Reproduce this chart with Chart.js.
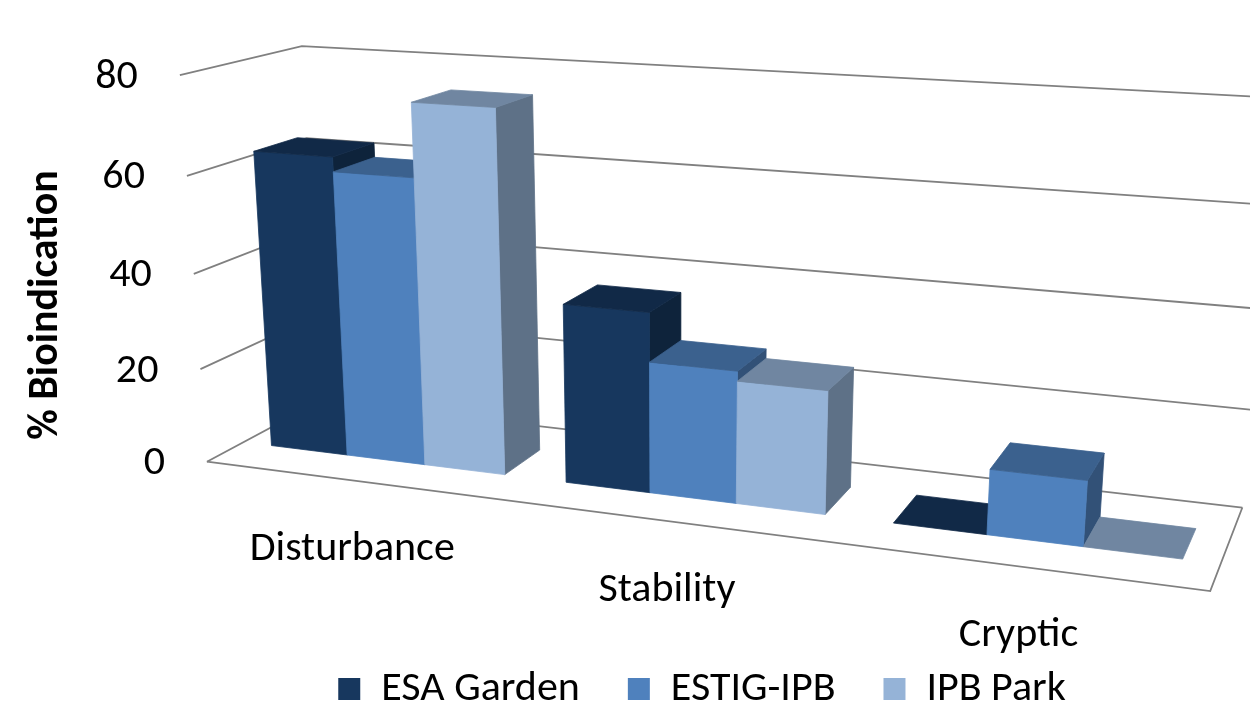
<!DOCTYPE html>
<html><head><meta charset="utf-8">
<script src="https://cdn.jsdelivr.net/npm/chart.js@4.4.1/dist/chart.umd.min.js"></script>
<style>html,body{margin:0;padding:0;background:#fff;}</style>
</head><body><canvas id="c" width="1250" height="706"></canvas>
<script>
// Bioindication share (%) per ecological group and site
const categories = ['Disturbance', 'Stability', 'Cryptic'];
const esaGarden = [63, 37, 0];
const estigIpb = [60, 27, 13];
const ipbPark = [75, 25, 0];
const yTicks = [0, 20, 40, 60, 80];

// Perspective view of the plot box. World coordinates are normalised to [0,1]:
// X across the category axis, Y = value / axis max, Z from the front to the back wall.
// Canvas point = (hx/hw, hy/hw) with h = H0 + X*Hx + Y*Hy + Z*Hz.
const camera = {
  H0: [206.9179, 461.7321, 1],
  Hx: [817.7837, 38.7801, -0.1533],
  Hy: [-36.8897, -390.6310, -0.0547],
  Hz: [143.6054, -23.2369, 0.0937]
};
const barFront = 0.304, barBack = 0.673;   // depth slab occupied by the columns
const FONT = 'Carlito, Calibri, Lato, sans-serif';

function project(X, Y, Z) {
  const h = [0, 1, 2].map(i => camera.H0[i] + X * camera.Hx[i] + Y * camera.Hy[i] + Z * camera.Hz[i]);
  return [h[0] / h[2], h[1] / h[2]];
}
const shade = (hex, f) => {
  const n = parseInt(hex.slice(1), 16);
  return `rgb(${Math.round(((n >> 16) & 255) * f)},${Math.round(((n >> 8) & 255) * f)},${Math.round((n & 255) * f)})`;
};

const view3d = {
  id: 'view3d',
  beforeDatasetsDraw(chart) {
    const ctx = chart.ctx, a = chart.chartArea, ys = chart.scales.y, xs = chart.scales.x;
    const nx = px => (px - a.left) / a.width;
    const ny = py => (a.bottom - py) / a.height;
    const poly = ps => { ctx.beginPath(); ps.forEach((q, i) => i ? ctx.lineTo(q[0], q[1]) : ctx.moveTo(q[0], q[1])); };
    const area2 = ps => { let s = 0; for (let i = 0; i < ps.length; i++) { const j = (i + 1) % ps.length; s += ps[i][0] * ps[j][1] - ps[j][0] * ps[i][1]; } return s; };
    ctx.save();

    // side wall + back wall gridlines, floor outline
    ctx.strokeStyle = '#808080'; ctx.lineWidth = 1.8; ctx.lineJoin = 'miter';
    ys.ticks.forEach(t => {
      const Y = ny(ys.getPixelForValue(t.value));
      poly([project(0, Y, 0), project(0, Y, 1), project(1, Y, 1)]); ctx.stroke();
    });
    poly([project(0, 0, 0), project(1, 0, 0), project(1, 0, 1)]); ctx.stroke();

    // columns as boxes, painted left to right
    const boxes = [];
    chart.data.datasets.forEach((ds, di) => {
      chart.getDatasetMeta(di).data.forEach(bar => {
        const { x, y, base, width } = bar.getProps(['x', 'y', 'base', 'width'], true);
        boxes.push({ X0: nx(x - width / 2), X1: nx(x + width / 2), Y0: ny(base), Y1: ny(y), col: ds.backgroundColor });
      });
    });
    boxes.sort((p, q) => p.X0 - q.X0);
    const facing = Math.sign(area2([project(0, 0, 0), project(0, 1, 0), project(1, 1, 0), project(1, 0, 0)]));
    const fillFace = (f, color) => {
      ctx.fillStyle = color; ctx.strokeStyle = color; ctx.lineWidth = 0.8;
      poly(f); ctx.closePath(); ctx.fill(); ctx.stroke();
    };
    const zf = barFront, zb = barBack;
    boxes.forEach(({ X0, X1, Y0, Y1, col }) => {
      const front = [project(X0, Y0, zf), project(X0, Y1, zf), project(X1, Y1, zf), project(X1, Y0, zf)];
      const top = [project(X0, Y1, zf), project(X0, Y1, zb), project(X1, Y1, zb), project(X1, Y1, zf)];
      const right = [project(X1, Y0, zf), project(X1, Y1, zf), project(X1, Y1, zb), project(X1, Y0, zb)];
      const left = [project(X0, Y0, zf), project(X0, Y0, zb), project(X0, Y1, zb), project(X0, Y1, zf)];
      if (Y1 - Y0 > 1e-4) {
        [left, right].forEach(f => { if (Math.sign(area2(f)) === facing) fillFace(f, shade(col, 0.63)); });
        fillFace(front, col);
      }
      fillFace(top, shade(col, 0.75));
    });

    // value axis labels along the front edge of the side wall
    ctx.fillStyle = '#000'; ctx.font = '42px ' + FONT;
    ctx.textAlign = 'right'; ctx.textBaseline = 'middle';
    ys.ticks.forEach(t => {
      const q = project(0, ny(ys.getPixelForValue(t.value)), 0);
      ctx.fillText(t.label, q[0] - 42, q[1] + 2);
    });
    // category labels below the front edge of the floor
    ctx.textAlign = 'center'; ctx.textBaseline = 'alphabetic';
    categories.forEach((c, i) => {
      const q = project(nx(xs.getPixelForValue(i)), 0, 0);
      ctx.fillText(c, q[0], q[1] + 80);
    });
    // axis title
    ctx.translate(57, 305); ctx.rotate(-Math.PI / 2);
    ctx.font = 'bold 42px ' + FONT; ctx.textAlign = 'center'; ctx.textBaseline = 'alphabetic';
    ctx.fillText('% Bioindication', 0, 0);
    ctx.restore();
    return false;
  }
};

new Chart(document.getElementById('c'), {
  type: 'bar',
  data: {
    labels: categories,
    datasets: [
      { label: 'ESA Garden', data: esaGarden, backgroundColor: '#17375E' },
      { label: 'ESTIG-IPB', data: estigIpb, backgroundColor: '#4F81BD' },
      { label: 'IPB Park', data: ipbPark, backgroundColor: '#95B3D7' }
    ]
  },
  options: {
    responsive: false, animation: false, events: [],
    layout: { padding: { left: 154, bottom: -14 } },
    datasets: { bar: { categoryPercentage: 0.80, barPercentage: 1 } },
    scales: {
      x: { display: false },
      y: { display: false, min: 0, max: 80, afterBuildTicks: s => { s.ticks = yTicks.map(v => ({ value: v })); } }
    },
    plugins: {
      tooltip: { enabled: false },
      legend: {
        position: 'bottom',
        labels: { boxWidth: 22, boxHeight: 22, padding: 48, color: '#000', font: { family: FONT, size: 42 } }
      }
    }
  },
  plugins: [view3d]
});
</script></body></html>
